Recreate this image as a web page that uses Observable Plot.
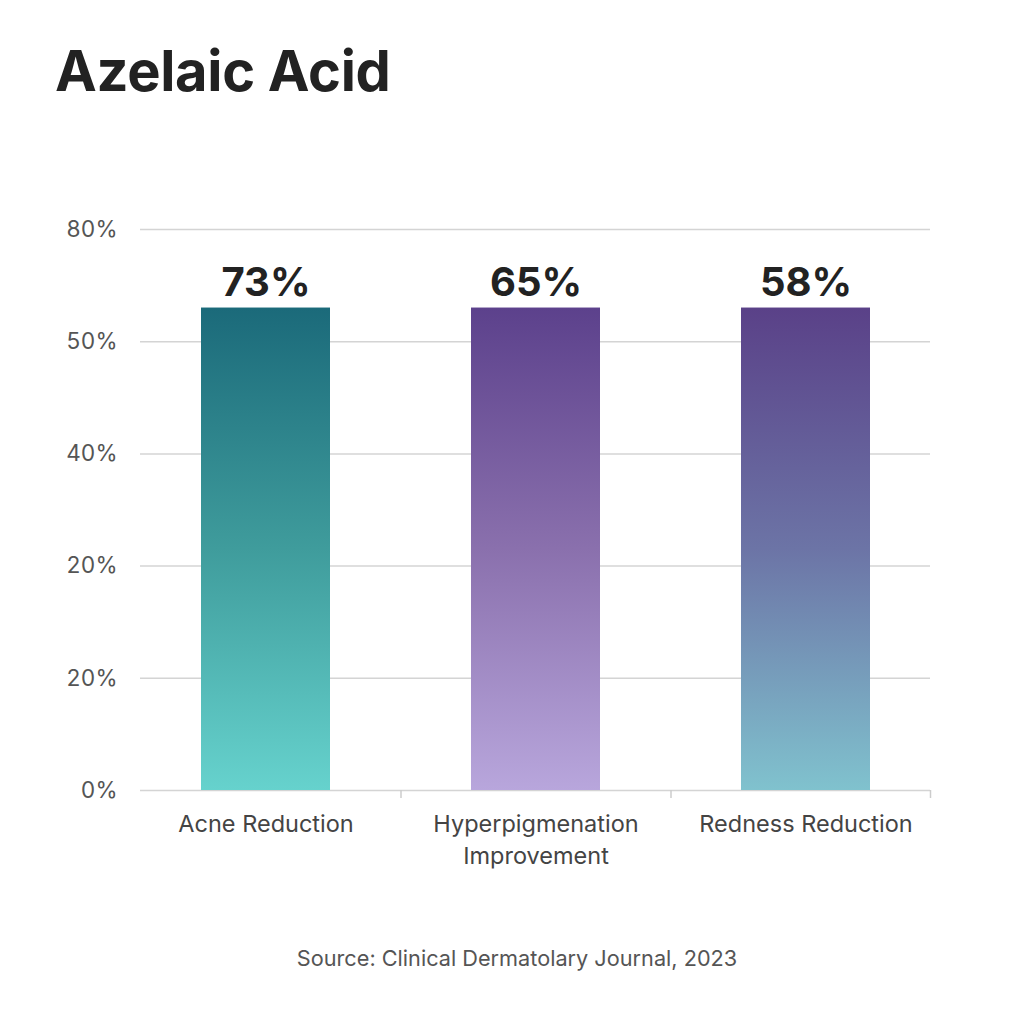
<!DOCTYPE html>
<html>
<head>
<meta charset="utf-8">
<script src="https://cdn.jsdelivr.net/npm/d3@7"></script>
<script src="https://cdn.jsdelivr.net/npm/@observablehq/plot@0.6"></script>
<style>
  html, body { margin: 0; padding: 0; background: #fff; }
  body { width: 1024px; height: 1024px; overflow: hidden; font-family: Inter, "Open Sans", sans-serif; }
  #title { height: 150px; box-sizing: border-box; padding: 43px 0 0 55px; font-size: 56px; font-weight: 700; color: #222; line-height: 1; letter-spacing: -0.3px; }
  #chart { height: 770px; }
  #caption { text-align: center; font-size: 21.7px; color: #555; padding-top: 25px; padding-left: 10px; }
</style>
</head>
<body>
<div id="title">Azelaic Acid</div>
<div id="chart"></div>
<div id="caption">Source: Clinical Dermatolary Journal, 2023</div>
<script>
const categories = ["Acne Reduction", "Hyperpigmenation\nImprovement", "Redness Reduction"];
const barHeights = [86, 86, 86];          // drawn height on the axis scale (bars appear equal)
const valueLabels = ["73%", "65%", "58%"];
const yTickValues = [0, 20, 40, 60, 80, 100];
const yTickLabels = ["0%", "20%", "20%", "40%", "50%", "80%"];
const gradTop = ["#1b6a7a", "#5c418c", "#5a4188"];
const gradMid = ["#3f9c9c", "#8a70ad", "#6c74a6"];
const gradBottom = ["#66d2cd", "#b8a6dc", "#80c2ce"];

const data = categories.map((c, i) => ({category: c, height: barHeights[i], label: valueLabels[i]}));

const plot = Plot.plot({
  width: 1024,
  height: 770,
  marginLeft: 140,
  marginRight: 94,
  marginTop: 79,
  marginBottom: 130,
  style: {fontFamily: "Inter, 'Open Sans', sans-serif", background: "#fff", color: "#555"},
  x: {domain: categories, paddingInner: 0.523, paddingOuter: 0.222, label: null},
  y: {domain: [0, 100], label: null},
  marks: [
    Plot.gridY(yTickValues, {stroke: "#d4d4d4", strokeOpacity: 1, strokeWidth: 1.5}),
    Plot.axisY(yTickValues, {tickSize: 0, tickPadding: 23, fontSize: 22.5, tickFormat: (d, i) => yTickLabels[i], fill: "#555"}),
    Plot.axisX({tickSize: 0, tickPadding: 18, fontSize: 23.5, lineHeight: 1.38, fill: "#444", label: null}),
    Plot.ruleX(categories.slice(0, 2), {x: d => d, y1: 0, y2: 0, dx: 135, stroke: "#ccc", strokeWidth: 1.5, insetBottom: -8}),
    Plot.ruleX(categories.slice(2), {x: d => d, y1: 0, y2: 0, dx: 124.5, stroke: "#ccc", strokeWidth: 1.5, insetBottom: -8}),
    Plot.barY(data, {x: "category", y: "height", fill: "#888"}),
    Plot.text(data, {x: "category", y: "height", text: "label", dy: -12, lineAnchor: "bottom", fontSize: 40, fontWeight: 700, fill: "#222"})
  ]
});

const svg = d3.select(plot);
const defs = svg.insert("defs", ":first-child");
gradTop.forEach((t, i) => {
  const g = defs.append("linearGradient").attr("id", "barGrad" + i)
    .attr("x1", 0).attr("y1", 0).attr("x2", 0).attr("y2", 1);
  g.append("stop").attr("offset", "0%").attr("stop-color", t);
  g.append("stop").attr("offset", "50%").attr("stop-color", gradMid[i]);
  g.append("stop").attr("offset", "100%").attr("stop-color", gradBottom[i]);
});
svg.selectAll("g[aria-label=bar] rect").attr("fill", (d, i) => `url(#barGrad${i})`);

document.getElementById("chart").appendChild(plot);
</script>
</body>
</html>
